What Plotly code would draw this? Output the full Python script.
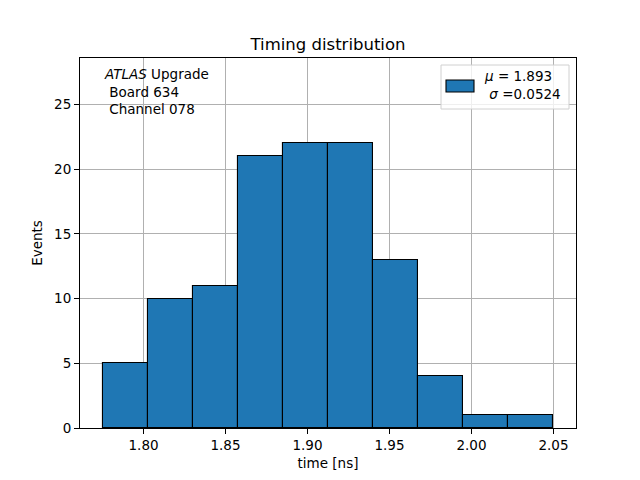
import numpy as np
import plotly.graph_objects as go

# Data
counts = [5, 10, 11, 21, 22, 22, 13, 4, 1, 1]
bin_lo, bin_hi = 1.775, 2.05
x_ticks = [1.80, 1.85, 1.90, 1.95, 2.00, 2.05]
y_ticks = [0, 5, 10, 15, 20, 25]
mu_label = "1.893"
sigma_label = "0.0524"
info_lines = ["<i>ATLAS</i> Upgrade", " Board 634", " Channel 078"]

edges = np.linspace(bin_lo, bin_hi, len(counts) + 1)
centers = (edges[:-1] + edges[1:]) / 2
widths = np.diff(edges)

FONT = "DejaVu Sans"
OFF = 8  # page body margin in the browser

fig = go.Figure()
fig.add_trace(go.Bar(
    x=centers, y=counts, width=widths,
    marker=dict(color="#1f77b4", line=dict(color="black", width=1.1)),
    showlegend=False,
))

span = bin_hi - bin_lo
xr = [bin_lo - 0.05 * span, bin_hi + 0.05 * span]
yr = [0, max(counts) * 1.3]

axis_common = dict(
    showline=True, linecolor="black", linewidth=1, mirror=True,
    ticks="outside", ticklen=5, tickwidth=1, tickcolor="black",
    showgrid=True, gridcolor="#b0b0b0", gridwidth=1,
    zeroline=False, layer="above traces",
    tickfont=dict(family=FONT, size=13.5, color="black"),
)

fig.update_layout(
    width=640, height=480,
    margin=dict(l=80 - OFF, r=64 + OFF, t=58 - OFF, b=52 + OFF, autoexpand=False),
    paper_bgcolor="white", plot_bgcolor="white",
    font=dict(family=FONT, color="black"),
    title=dict(text="Timing distribution", x=(328 - OFF) / 640, xanchor="center",
               y=1 - (44 - OFF) / 480, yanchor="middle",
               font=dict(family=FONT, size=16.5, color="black")),
    xaxis=dict(range=xr, tickvals=x_ticks, ticktext=[f"{v:.2f}" for v in x_ticks],
               title=dict(text="time [ns]", standoff=6,
                          font=dict(family=FONT, size=13.5)),
               **axis_common),
    yaxis=dict(range=yr, tickvals=y_ticks,
               title=dict(text="Events", standoff=8,
                          font=dict(family=FONT, size=13.5)),
               **axis_common),
    bargap=0,
)

def px_x(p):
    return (p - 80) / 496

def px_y(p):
    return 1 - (p - 58) / 370

# Info text box (top-left)
fig.add_annotation(
    xref="paper", yref="paper", x=px_x(102), y=px_y(64),
    xanchor="left", yanchor="top", align="left", showarrow=False,
    text="<br>".join(info_lines),
    font=dict(family=FONT, size=13.5, color="black"),
)

# Legend (matplotlib style)
fig.add_shape(type="rect", xref="paper", yref="paper",
              x0=px_x(441), x1=px_x(569), y0=px_y(109), y1=px_y(65),
              line=dict(color="#d0d0d0", width=1), fillcolor="rgba(255,255,255,0.8)",
              layer="above")
fig.add_shape(type="rect", xref="paper", yref="paper",
              x0=px_x(446), x1=px_x(474), y0=px_y(92), y1=px_y(80),
              line=dict(color="black", width=1.1), fillcolor="#1f77b4",
              layer="above")
fig.add_annotation(
    xref="paper", yref="paper", x=px_x(482), y=px_y(66),
    xanchor="left", yanchor="top", align="left", showarrow=False,
    text=f"<i>μ</i> = {mu_label}<br> <i>σ</i> ={sigma_label}",
    font=dict(family=FONT, size=13.5, color="black"),
)

fig.write_html("out.html")
